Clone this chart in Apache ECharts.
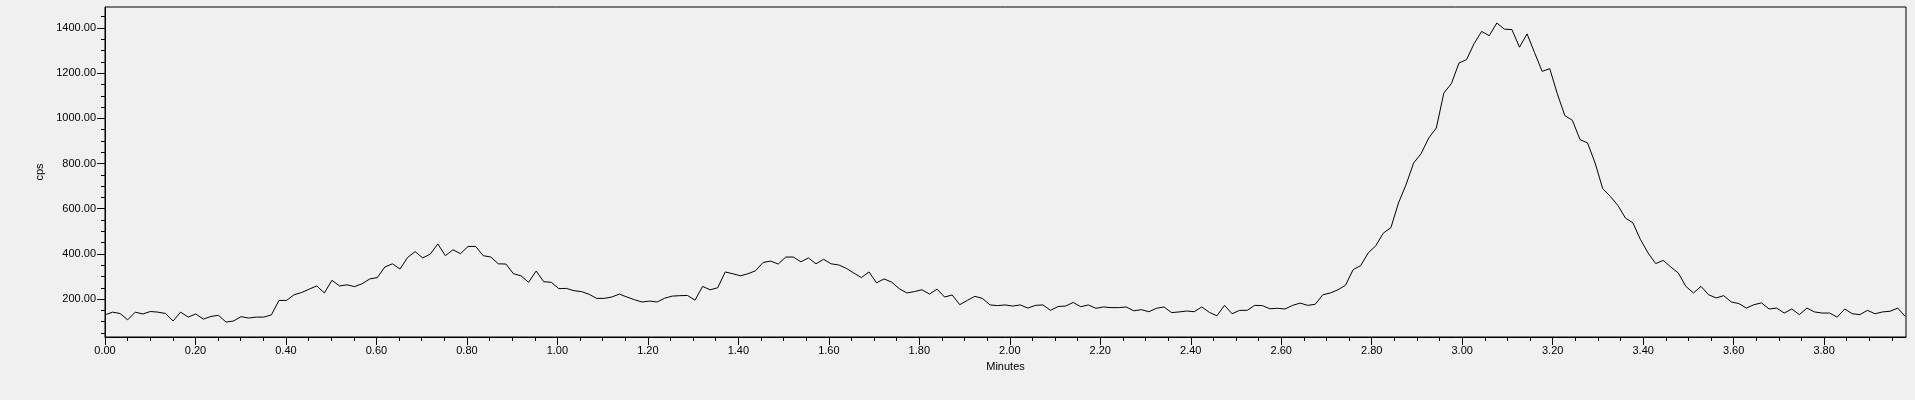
<!DOCTYPE html>
<html>
<head>
<meta charset="utf-8">
<script src="https://cdn.jsdelivr.net/npm/echarts@6/dist/echarts.min.js"></script>
<style>
html,body{margin:0;padding:0;background:#f0f0f0;}
#chart{width:1915px;height:400px;}
</style>
</head>
<body>
<div id="chart"></div>
<script>
// Sampling interval of the trace, in minutes
const SAMPLE_INTERVAL = 0.01672;

// Intensity (cps) for each successive sample
const cpsValues = [
  130,142,136,108,142,134,145,142,136,103,142,120,134,111,123,128,98,103,122,116,
  120,120,130,194,194,219,229,244,258,227,283,258,263,255,268,289,295,342,356,333,
  384,410,382,399,444,392,418,401,433,433,392,386,356,355,312,303,274,324,277,274,
  246,247,237,233,221,203,203,209,222,209,197,187,191,187,204,213,215,216,195,256,
  241,250,320,312,303,312,325,362,368,355,386,386,365,382,356,376,356,351,336,315,
  295,320,272,289,275,246,227,233,241,222,244,209,218,175,194,212,203,174,171,174,
  169,174,160,172,174,150,167,169,185,166,174,159,165,162,162,165,148,153,144,159,
  165,140,143,147,144,165,141,126,172,135,150,150,172,171,157,159,156,172,182,172,
  177,219,227,241,261,330,348,404,436,492,516,625,706,802,844,913,957,1112,1154,1245,
  1260,1331,1385,1366,1422,1395,1393,1315,1374,1290,1208,1220,1109,1012,991,906,891,802,689,655,
  615,559,537,463,404,357,371,342,315,256,227,256,219,205,215,187,180,160,175,183,
  156,160,138,156,131,160,143,138,138,120,156,135,131,150,135,143,146,160,123
];

// Tick labels
const xTickLabels = [0.00,0.20,0.40,0.60,0.80,1.00,1.20,1.40,1.60,1.80,2.00,2.20,2.40,2.60,2.80,3.00,3.20,3.40,3.60,3.80];
const yTickLabels = [200,400,600,800,1000,1200,1400];

const X_MIN = 0, X_MAX = 3.981;
const Y_MIN = 32, Y_MAX = 1493;

// minor tick positions
const xMinorTicks = [];
for (let k = 0; k * 0.05 < X_MAX; k++) xMinorTicks.push(+(k * 0.05).toFixed(2));
const yMinorTicks = [];
for (let v = 50; v < Y_MAX; v += 50) yMinorTicks.push(v);

const seriesData = cpsValues.map((v, i) => [i * SAMPLE_INTERVAL, v]);

const FONT = 'Liberation Sans';
const txt = {color: '#000', fontFamily: FONT, fontSize: 11};

const chart = echarts.init(document.getElementById('chart'), null, {renderer: 'canvas'});
chart.setOption({
  backgroundColor: '#f0f0f0',
  animation: false,
  grid: {left: 105, right: 9, top: 7, bottom: 63, show: true, borderColor: '#000', borderWidth: 1, backgroundColor: 'transparent'},
  xAxis: [
    {
      type: 'value', min: X_MIN, max: X_MAX, position: 'bottom',
      axisLine: {show: true, lineStyle: {color: '#000', width: 1}},
      axisTick: {show: true, length: 8, customValues: xTickLabels, lineStyle: {color: '#000'}},
      axisLabel: Object.assign({customValues: xTickLabels, margin: 8, formatter: v => v.toFixed(2)}, txt),
      splitLine: {show: false},
      name: 'Minutes', nameLocation: 'middle', nameGap: 24,
      nameTextStyle: txt
    },
    {
      type: 'value', min: X_MIN, max: X_MAX, position: 'bottom',
      axisLine: {show: false},
      axisTick: {show: true, length: 4, customValues: xMinorTicks, lineStyle: {color: '#000'}},
      axisLabel: {show: false},
      splitLine: {show: false}
    }
  ],
  yAxis: [
    {
      type: 'value', min: Y_MIN, max: Y_MAX, position: 'left',
      axisLine: {show: true, lineStyle: {color: '#000', width: 1}},
      axisTick: {show: true, length: 8, customValues: yTickLabels, lineStyle: {color: '#000'}},
      axisLabel: Object.assign({customValues: yTickLabels, margin: 9, formatter: v => v.toFixed(2)}, txt),
      splitLine: {show: false},
      name: 'cps', nameLocation: 'middle', nameGap: 60, nameRotate: 90,
      nameTextStyle: txt
    },
    {
      type: 'value', min: Y_MIN, max: Y_MAX, position: 'left',
      axisLine: {show: false},
      axisTick: {show: true, length: 4, customValues: yMinorTicks, lineStyle: {color: '#000'}},
      axisLabel: {show: false},
      splitLine: {show: false}
    }
  ],
  series: [{
    type: 'line',
    xAxisIndex: 0, yAxisIndex: 0,
    data: seriesData,
    showSymbol: false,
    symbol: 'none',
    smooth: false,
    clip: true,
    lineStyle: {color: '#000', width: 1}
  }]
});
</script>
</body>
</html>
